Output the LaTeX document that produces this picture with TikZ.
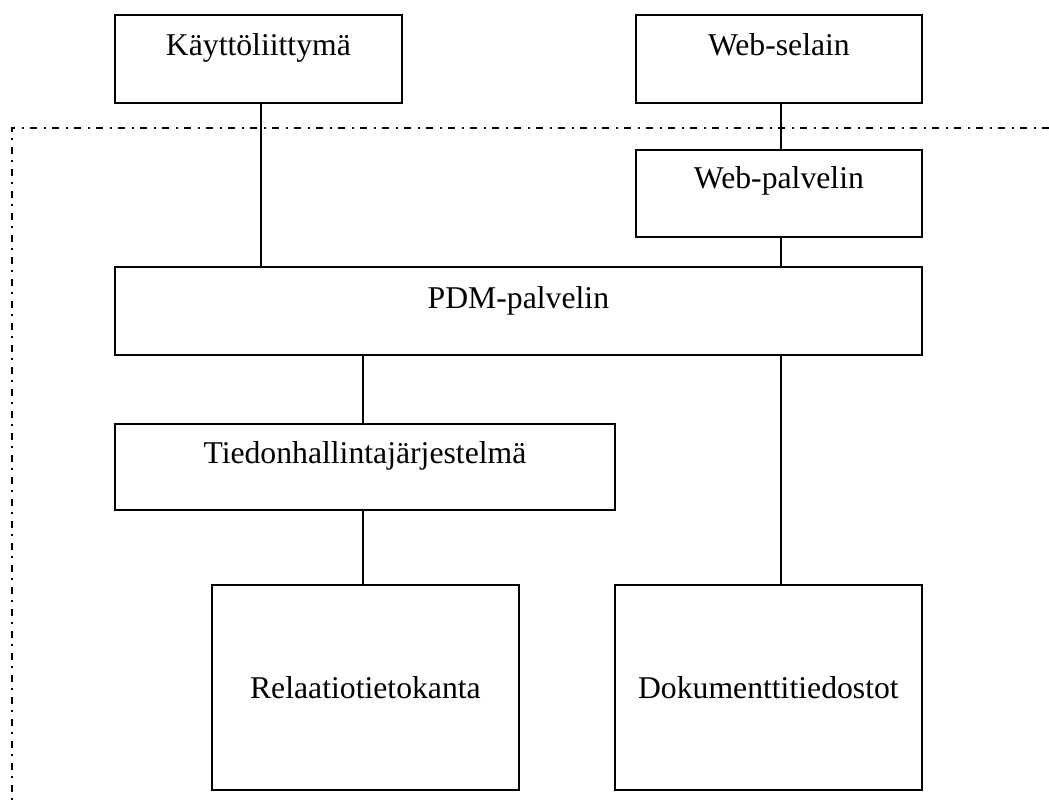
\documentclass[tikz,border=0pt]{standalone}
\usepackage{fontspec}
\setmainfont{Liberation Serif}
\tikzset{
  box/.style={draw, line width=1.8pt, inner sep=0pt, anchor=north west,
    font=\fontsize{31.7}{38}\selectfont},
  conn/.style={line width=1.8pt},
  frameline/.style={line width=2pt, dash pattern=on 7pt off 6pt on 2pt off 7pt}
}
\begin{document}
\begin{tikzpicture}[x=1pt,y=-1pt]
\useasboundingbox (0,0) rectangle (1049,801);
\fill[white] (0,0) rectangle (1049,801);
% dash-dot boundary
\coordinate (fr) at (1049,128);
\coordinate (fc) at (12,128);
\coordinate (fb) at (12,801);
\draw[frameline] (fr) -- (fc) -- (fb);
% boxes
\node[box, minimum width=287pt, text height=41pt, text depth=47pt] (kl) at (114,14) {Käyttöliittymä};
\node[box, minimum width=286pt, text height=41pt, text depth=47pt] (ws) at (635,14) {Web-selain};
\node[box, minimum width=286pt, text height=39pt, text depth=48pt] (wp) at (635,149) {Web-palvelin};
\node[box, minimum width=807pt, text height=42pt, text depth=46pt] (pdm) at (114,266) {PDM-palvelin};
\node[box, minimum width=500pt, text height=40pt, text depth=46pt] (th) at (114,423) {Tiedonhallintajärjestelmä};
\node[box, minimum width=307pt, text height=114pt, text depth=91pt] (rel) at (211,584) {Relaatiotietokanta};
\node[box, minimum width=307pt, text height=114pt, text depth=91pt] (dok) at (614,584) {Dokumenttitiedostot};
% connectors
\draw[conn] ([xshift=2.5pt]kl.south) -- ([xshift=2.5pt]kl.south |- pdm.north);
\draw[conn] ([xshift=2pt]ws.south) -- ([xshift=2pt]ws.south |- wp.north);
\draw[conn] ([xshift=2pt]wp.south) -- ([xshift=2pt]wp.south |- pdm.north);
\draw[conn] ([xshift=-2pt]th.north |- pdm.south) -- ([xshift=-2pt]th.north);
\draw[conn] ([xshift=-2pt]th.south) -- ([xshift=-2pt]th.south |- rel.north);
\draw[conn] ([xshift=2pt]wp.south |- pdm.south) -- ([xshift=2pt]wp.south |- dok.north);
\end{tikzpicture}
\end{document}
